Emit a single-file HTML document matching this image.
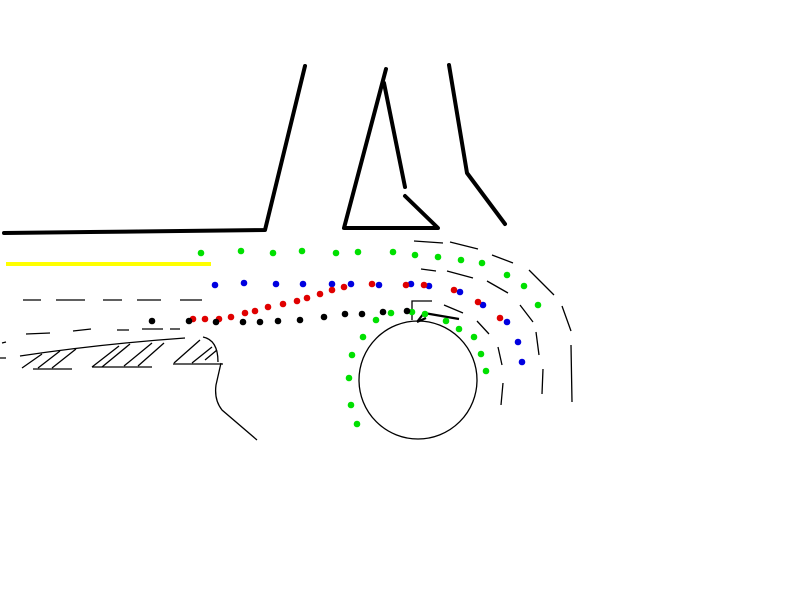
<!DOCTYPE html>
<html><head><style>html,body{margin:0;padding:0;background:#fff;}svg{display:block}</style></head>
<body>
<svg width="799" height="599" viewBox="0 0 799 599" xmlns="http://www.w3.org/2000/svg">
<g fill="none" stroke="#000" stroke-width="4" stroke-linecap="round" stroke-linejoin="round">
<polyline points="305,66 265,230 90,232 4,233"/>
<polyline points="386,69 344,228 438,228 405,196"/>
<line x1="384" y1="83" x2="405" y2="187"/>
<polyline points="449,65 467,173 505,224"/>
</g>
<line x1="6" y1="264" x2="211" y2="264" stroke="#ffff00" stroke-width="4"/>
<g fill="none" stroke="#000" stroke-width="1.3">
<path d="M23,300h18M56,300h29M103,300h19M137,300h24M180,300h22"/>
<path d="M26,334l24,-1M73,331l18,-2M117,330h12M142,329h21M170,329h10M2,343l4,-1M0,358h6"/>
<path d="M414,241l29,2M450,242l28,7M492,255l21,8M529,270l25,25M562,306l9,25M571,345l1,57"/>
<path d="M421,269l15,2M447,271l26,7M487,281l21,12M520,305l13,17M536,332l3,23M543,369l-1,25"/>
<path d="M444,305l19,8M477,321l12,13M498,347l4,18M503,383l-2,22"/>
<path d="M20,356 Q100,344 185,338 M33,369h39M92,367h60M173,364h50"/>
<path d="M203,337 Q218,340 218,362 M221,363 L216,385 Q214,400 222,410 L257,440"/>
<path d="M22,368l20,-14M38,368l22,-17M52,368l24,-19M92,367l27,-21M102,367l28,-23M124,366l28,-23M138,366l26,-23M174,363l26,-23M192,363l20,-16M205,360l12,-10"/>
<circle cx="418" cy="380" r="59"/>
<polyline points="412,320 412,301 432,301"/>
</g>
<g stroke="#000" stroke-width="2.2" fill="none"><line x1="459" y1="319" x2="424" y2="313"/><path d="M417,322 L424,313 M417,322 L426,318"/></g>
<g fill="#00e000">
<circle cx="201" cy="253" r="3.3"/><circle cx="241" cy="251" r="3.3"/><circle cx="273" cy="253" r="3.3"/><circle cx="302" cy="251" r="3.3"/><circle cx="336" cy="253" r="3.3"/><circle cx="358" cy="252" r="3.3"/><circle cx="393" cy="252" r="3.3"/><circle cx="415" cy="255" r="3.3"/><circle cx="438" cy="257" r="3.3"/><circle cx="461" cy="260" r="3.3"/><circle cx="482" cy="263" r="3.3"/><circle cx="507" cy="275" r="3.3"/><circle cx="524" cy="286" r="3.3"/><circle cx="538" cy="305" r="3.3"/>
<circle cx="352" cy="355" r="3.3"/><circle cx="349" cy="378" r="3.3"/><circle cx="351" cy="405" r="3.3"/><circle cx="357" cy="424" r="3.3"/><circle cx="363" cy="337" r="3.3"/><circle cx="376" cy="320" r="3.3"/><circle cx="391" cy="313" r="3.3"/><circle cx="412" cy="312" r="3.3"/><circle cx="425" cy="314" r="3.3"/><circle cx="446" cy="321" r="3.3"/><circle cx="459" cy="329" r="3.3"/><circle cx="474" cy="337" r="3.3"/><circle cx="481" cy="354" r="3.3"/><circle cx="486" cy="371" r="3.3"/>
</g>
<g fill="#0000e0">
<circle cx="215" cy="285" r="3.3"/><circle cx="244" cy="283" r="3.3"/><circle cx="276" cy="284" r="3.3"/><circle cx="303" cy="284" r="3.3"/><circle cx="332" cy="284" r="3.3"/><circle cx="351" cy="284" r="3.3"/><circle cx="379" cy="285" r="3.3"/><circle cx="411" cy="284" r="3.3"/><circle cx="429" cy="286" r="3.3"/><circle cx="460" cy="292" r="3.3"/><circle cx="483" cy="305" r="3.3"/><circle cx="507" cy="322" r="3.3"/><circle cx="518" cy="342" r="3.3"/><circle cx="522" cy="362" r="3.3"/>
</g>
<g fill="#e00000">
<circle cx="193" cy="319" r="3.3"/><circle cx="205" cy="319" r="3.3"/><circle cx="219" cy="319" r="3.3"/><circle cx="231" cy="317" r="3.3"/><circle cx="245" cy="313" r="3.3"/><circle cx="255" cy="311" r="3.3"/><circle cx="268" cy="307" r="3.3"/><circle cx="283" cy="304" r="3.3"/><circle cx="297" cy="301" r="3.3"/><circle cx="307" cy="298" r="3.3"/><circle cx="320" cy="294" r="3.3"/><circle cx="332" cy="290" r="3.3"/><circle cx="344" cy="287" r="3.3"/><circle cx="372" cy="284" r="3.3"/><circle cx="406" cy="285" r="3.3"/><circle cx="424" cy="285" r="3.3"/><circle cx="454" cy="290" r="3.3"/><circle cx="478" cy="302" r="3.3"/><circle cx="500" cy="318" r="3.3"/>
</g>
<g fill="#000">
<circle cx="152" cy="321" r="3.3"/><circle cx="189" cy="321" r="3.3"/><circle cx="216" cy="322" r="3.3"/><circle cx="243" cy="322" r="3.3"/><circle cx="260" cy="322" r="3.3"/><circle cx="278" cy="321" r="3.3"/><circle cx="300" cy="320" r="3.3"/><circle cx="324" cy="317" r="3.3"/><circle cx="345" cy="314" r="3.3"/><circle cx="362" cy="314" r="3.3"/><circle cx="383" cy="312" r="3.3"/><circle cx="407" cy="311" r="3.3"/>
</g>
</svg>
</body></html>
